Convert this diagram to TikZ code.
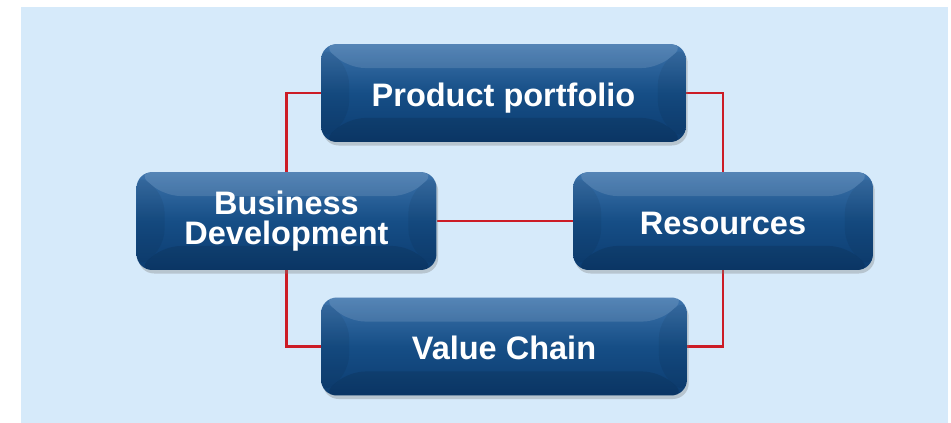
\documentclass[tikz,border=0pt]{standalone}
\usepackage{fontspec}
\setmainfont{Liberation Sans}
\usepackage{tikz}
\usetikzlibrary{positioning,shadows,backgrounds}
\definecolor{BoxTop}{RGB}{62,116,172}
\definecolor{BoxMid}{RGB}{22,78,134}
\definecolor{BoxBot}{RGB}{12,60,112}
\definecolor{LinkRed}{RGB}{204,28,38}
\definecolor{PageBlue}{RGB}{214,234,250}

\begin{document}
\begin{tikzpicture}[x=0.02cm,y=-0.02cm,
  box/.style={rounded corners=9pt,minimum height=1.96cm,align=center,
              top color=BoxTop,bottom color=BoxBot,middle color=BoxMid,
              text=white,font=\fontsize{18.5}{17}\selectfont\bfseries,
              drop shadow={opacity=0.35,shadow xshift=1pt,shadow yshift=-2pt},
              path picture={
                \fill[white,opacity=0.12] (path picture bounding box.north west)
                  -- (path picture bounding box.north east)
                  -- ([shift={(-28,24)}]path picture bounding box.north east)
                  -- ([shift={(28,24)}]path picture bounding box.north west) -- cycle;
                \fill[black,opacity=0.10] (path picture bounding box.south west)
                  -- (path picture bounding box.south east)
                  -- ([shift={(-28,-24)}]path picture bounding box.south east)
                  -- ([shift={(28,-24)}]path picture bounding box.south west) -- cycle;
                \fill[black,opacity=0.06] (path picture bounding box.north west)
                  -- ([shift={(28,24)}]path picture bounding box.north west)
                  -- ([shift={(28,-24)}]path picture bounding box.south west)
                  -- (path picture bounding box.south west) -- cycle;
                \fill[black,opacity=0.06] (path picture bounding box.north east)
                  -- ([shift={(-28,24)}]path picture bounding box.north east)
                  -- ([shift={(-28,-24)}]path picture bounding box.south east)
                  -- (path picture bounding box.south east) -- cycle;
              }},
  oneline/.style={box,execute at begin node={\rule[-4pt]{0pt}{23.3pt}}},
  link/.style={draw=LinkRed,line width=1.2pt},
]
\useasboundingbox (0,0) rectangle (951,423);
\begin{scope}[on background layer]
\fill[PageBlue] (21,7) rectangle (948,423);
\end{scope}
\node[oneline,minimum width=7.3cm] (prod) at (503.5,93) {Product portfolio};
\node[box,minimum width=6cm] (busdev) at (286.5,221) {Business\\Development};
\node[oneline,minimum width=6cm] (res) at (723,221) {Resources};
\node[oneline,minimum width=7.32cm] (chain) at (504,346.5) {Value Chain};
\begin{scope}[on background layer]
\draw[link] (prod.west) -| (busdev.north);
\draw[link] (busdev.south) |- (chain.west);
\draw[link] (prod.east) -| (res.north);
\draw[link] (res.south) |- (chain.east);
\draw[link] (busdev) -- (res);
\end{scope}
\end{tikzpicture}
\end{document}
